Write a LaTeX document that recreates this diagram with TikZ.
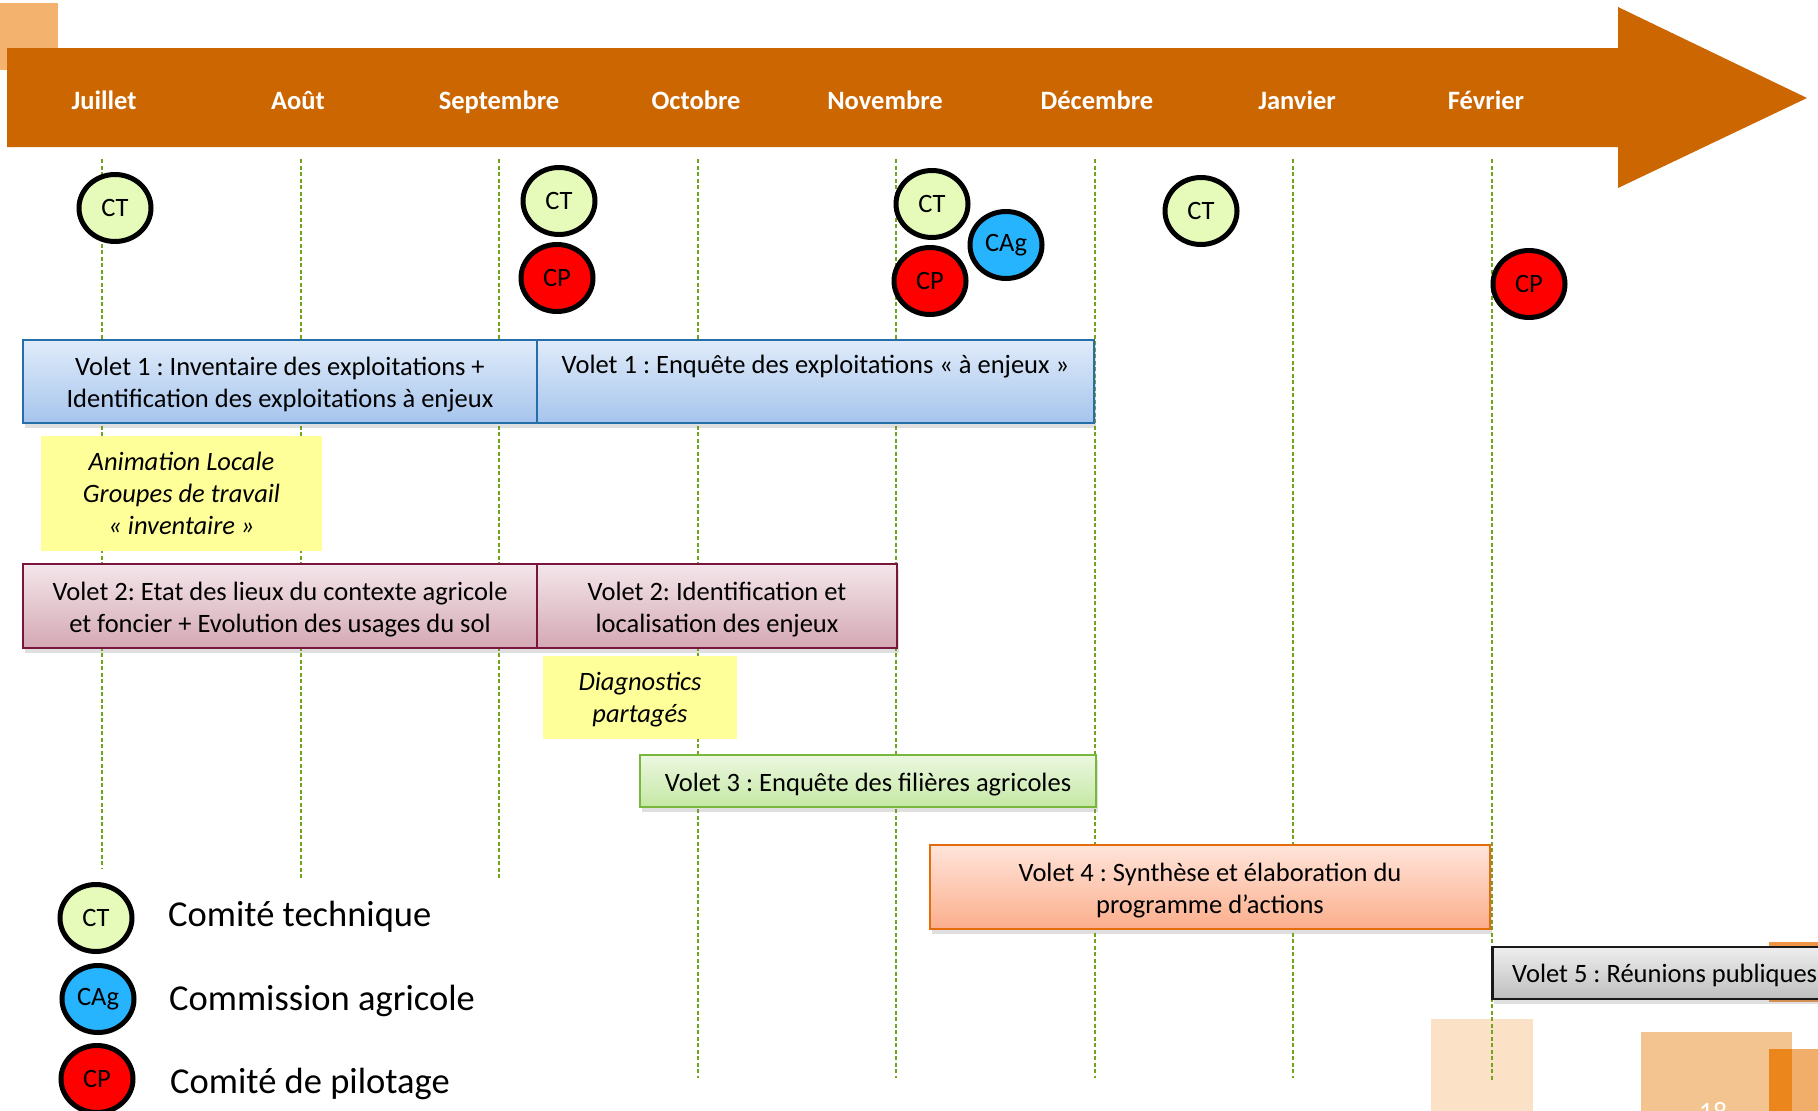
\documentclass[tikz,border=0pt]{standalone}
\usepackage{fontspec}
\setmainfont{Carlito}
\usetikzlibrary{shapes.geometric,shadows}
\definecolor{arrowor}{RGB}{204,102,0}
\definecolor{sqor}{RGB}{243,178,110}
\definecolor{gridg}{RGB}{112,166,28}
\definecolor{ctfill}{RGB}{230,251,186}
\definecolor{cagfill}{RGB}{38,180,255}
\definecolor{cpfill}{RGB}{255,0,0}
\definecolor{bluebd}{RGB}{38,110,170}
\definecolor{bluetop}{RGB}{224,235,249}
\definecolor{bluebot}{RGB}{166,197,237}
\definecolor{marbd}{RGB}{122,22,62}
\definecolor{martop}{RGB}{243,230,234}
\definecolor{marbot}{RGB}{212,168,180}
\definecolor{grnbd}{RGB}{120,182,60}
\definecolor{grntop}{RGB}{236,247,224}
\definecolor{grnbot}{RGB}{196,232,164}
\definecolor{orbd}{RGB}{228,108,10}
\definecolor{ortop}{RGB}{255,228,218}
\definecolor{orbot}{RGB}{251,174,140}
\definecolor{grybd}{RGB}{25,25,25}
\definecolor{grytop}{RGB}{238,238,238}
\definecolor{grybot}{RGB}{190,190,190}
\definecolor{notey}{RGB}{255,255,153}
\definecolor{peach1}{RGB}{251,226,198}
\definecolor{peach2}{RGB}{244,196,144}
\definecolor{dkor}{RGB}{235,134,28}
\definecolor{ltor}{RGB}{240,174,106}
\definecolor{midor}{RGB}{238,150,70}
\frenchspacing
\begin{document}
\begin{tikzpicture}[x=1pt,y=-1pt,
  mon/.style={text=white,font=\fontsize{26.5}{32}\bfseries\selectfont,inner sep=0pt,text height=19pt,text depth=0pt},
  gridl/.style={draw=gridg,line width=2pt,dash pattern=on 4pt off 2.5pt},
  meet/.style={ellipse,draw=black,line width=5pt,minimum width=72pt,minimum height=67pt,inner sep=0pt,font=\fontsize{26.5}{32}\selectfont},
  ctc/.style={meet,fill=ctfill},
  cpc/.style={meet,fill=cpfill},
  cagc/.style={meet,fill=cagfill},
  vbox/.style={draw,line width=2.5pt,inner sep=0pt,
    drop shadow={opacity=0.25,shadow xshift=2pt,shadow yshift=-5pt}},
  vt/.style={align=center,inner sep=0pt,font=\fontsize{26.5}{32}\selectfont,yshift=-3.5pt},
  vblue/.style={vbox,draw=bluebd,top color=bluetop,bottom color=bluebot},
  vmar/.style={vbox,draw=marbd,top color=martop,bottom color=marbot},
  vgrn/.style={vbox,draw=grnbd,top color=grntop,bottom color=grnbot},
  vor/.style={vbox,draw=orbd,top color=ortop,bottom color=orbot},
  vgry/.style={vbox,draw=grybd,top color=grytop,bottom color=grybot},
  notebox/.style={fill=notey,inner sep=0pt},
  nt/.style={align=center,inner sep=0pt,font=\fontsize{26.5}{32}\itshape\selectfont},
  legtext/.style={anchor=west,inner sep=0pt,font=\fontsize{36.5}{40}\selectfont}
]
\useasboundingbox (0,0) rectangle (1818,1111);
\clip (0,0) rectangle (1818,1111);
\fill[white] (0,0) rectangle (1818,1111);

% decorations
\fill[sqor] (0,3) rectangle (58,70);
\fill[peach1] (1431,1019) rectangle (1533,1111);
\fill[peach2] (1641,1032) rectangle (1792,1111);
\fill[dkor] (1769,1049) rectangle (1792,1111);
\fill[ltor] (1792,1049) rectangle (1818,1111);
\fill[midor] (1769,942) rectangle (1818,1002);
\node[anchor=north,inner sep=0pt,text=white,font=\fontsize{28}{30}\selectfont] (pnum) at (1713,1102) {18};

% timeline arrow
\fill[arrowor] (7,48) -- (1618,48) -- (1618,7) -- (1807,98) -- (1618,188) -- (1618,147) -- (7,147) -- cycle;

\node[mon] (mJul) at (104,100) {Juillet};
\node[mon] (mAug) at (298,100) {Août};
\node[mon] (mSep) at (499,100) {Septembre};
\node[mon] (mOct) at (696,100) {Octobre};
\node[mon] (mNov) at (885,100) {Novembre};
\node[mon] (mDec) at (1097,100) {Décembre};
\node[mon] (mJan) at (1297,100) {Janvier};
\node[mon] (mFeb) at (1486,100) {Février};

% grid lines
\foreach \i/\e in {0/868,1/878,2/878,3/1078,4/1078,5/1078,6/1078,7/1080}{
  \coordinate (gt\i) at ({102+198.5*\i},159);
  \coordinate (gb\i) at ({102+198.5*\i},\e);
  \draw[gridl] (gt\i) -- (gb\i);
}

% meetings
\node[ctc] (ct1) at (115,208) {CT};
\node[ctc] (ct2) at (559,201) {CT};
\node[cpc] (cp2) at (557,278) {CP};
\node[ctc] (ct3) at (932,204) {CT};
\node[cpc] (cp3) at (930,281) {CP};
\node[cagc] (cag3) at (1006,245) {CAg};
\node[ctc] (ct4) at (1201,211) {CT};
\node[cpc] (cp5) at (1529,284) {CP};

% volets
\node[vblue,minimum width=514pt,minimum height=83pt,
  label={[vt]center:{Volet 1 : Inventaire des exploitations +\\Identification des exploitations à enjeux}}] (v1a) at (280,381.5) {};
\node[vblue,minimum width=557pt,minimum height=83pt,
  label={[vt]center:{Volet 1 : Enquête des exploitations « à enjeux »\\\strut}}] (v1b) at (815.5,381.5) {};
\node[notebox,minimum width=281pt,minimum height=115pt,
  label={[nt]center:{Animation Locale\\Groupes de travail\\« inventaire »}}] (n1) at (181.5,493.5) {};
\node[vmar,minimum width=514pt,minimum height=84pt,
  label={[vt]center:{Volet 2: Etat des lieux du contexte agricole\\et foncier + Evolution des usages du sol}}] (v2a) at (280,606) {};
\node[vmar,minimum width=360pt,minimum height=84pt,
  label={[vt]center:{Volet 2: Identification et\\localisation des enjeux}}] (v2b) at (717,606) {};
\node[notebox,minimum width=194pt,minimum height=83pt,
  label={[nt,yshift=-2pt]center:{Diagnostics\\partagés}}] (n2) at (640,697.5) {};
\node[vgrn,minimum width=456pt,minimum height=52pt,
  label={[vt]center:{Volet 3 : Enquête des filières agricoles}}] (v3) at (868,781) {};
\node[vor,minimum width=560pt,minimum height=84pt,
  label={[vt]center:{Volet 4 : Synthèse et élaboration du\\programme d’actions}}] (v4) at (1210,887) {};
\node[vgry,anchor=west,minimum width=360pt,minimum height=52pt] (v5) at (1491,973) {};
\node[anchor=west,inner sep=0pt,font=\fontsize{26.5}{32}\selectfont,yshift=-2pt] (v5t) at (1512,973) {Volet 5 : Réunions publiques};

% legend
\node[ctc] (lct) at (96,918) {CT};
\node[cagc] (lcag) at (98,999) {CAg};
\node[cpc] (lcp) at (97,1079) {CP};
\node[legtext] (tct) at (168,917) {Comité technique};
\node[legtext] (tcag) at (169,1001) {Commission agricole};
\node[legtext] (tcp) at (170,1084) {Comité de pilotage};
\end{tikzpicture}
\end{document}
